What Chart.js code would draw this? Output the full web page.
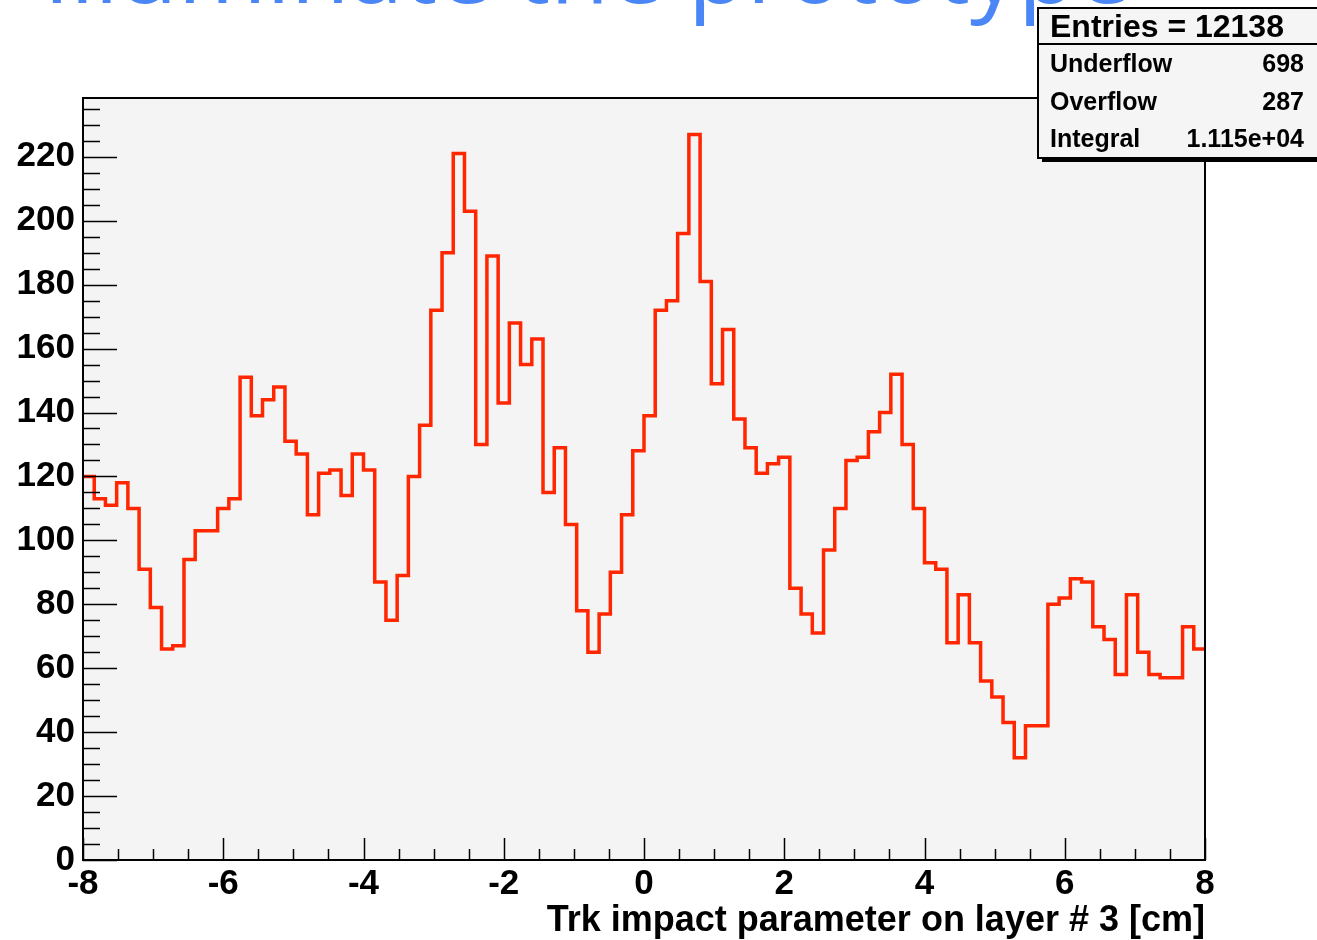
<!DOCTYPE html>
<html lang="fr">
<head>
<meta charset="UTF-8">
<title>Trk impact parameter on layer # 3</title>
<script src="https://cdn.jsdelivr.net/npm/chart.js@4.4.1/dist/chart.umd.min.js"></script>
<style>
    html, body { margin: 0; padding: 0; background: #ffffff; }
    canvas { display: block; }
</style>
</head>
<body>
<canvas id="histo-chart" width="1317" height="940"></canvas>
<script>
// Histogramme : 100 bins entre -8 et 8 cm
const xMin = -8;
const xMax = 8;
const yMax = 238.4;

const binValues = [
    120, 113, 111, 118, 110, 91, 79, 66, 67, 94,
    103, 103, 110, 113, 151, 139, 144, 148, 131, 127,
    108, 121, 122, 114, 127, 122, 87, 75, 89, 120,
    136, 172, 190, 221, 203, 130, 189, 143, 168, 155,
    163, 115, 129, 105, 78, 65, 77, 90, 108, 128,
    139, 172, 175, 196, 227, 181, 149, 166, 138, 129,
    121, 124, 126, 85, 77, 71, 97, 110, 125, 126,
    134, 140, 152, 130, 110, 93, 91, 68, 83, 68,
    56, 51, 43, 32, 42, 42, 80, 82, 88, 87,
    73, 69, 58, 83, 65, 58, 57, 57, 73, 66
];

// Boîte de statistiques
const statsTitle = "Entries = 12138";
const statsLabels = ["Underflow", "Overflow", "Integral"];
const statsValues = ["698", "287", "1.115e+04"];

const slideTitle = "Illuminate the prototype";
const axisTitle = "Trk impact parameter on layer # 3 [cm]";

const police = "'Liberation Sans', Arial, Helvetica, sans-serif";

// Points aux bords des bins (dernier point pour fermer le dernier bin)
const binWidth = (xMax - xMin) / binValues.length;
const points = binValues.map((v, i) => ({ x: xMin + i * binWidth, y: v }));
points.push({ x: xMax, y: binValues[binValues.length - 1] });

// Cadre, graduations et boîte de stats façon ROOT
const cadreRoot = {
    id: "cadreRoot",
    beforeDraw(chart) {
        const { ctx, chartArea: a } = chart;
        ctx.save();

        // titre de la diapo, coupé en haut
        ctx.font = "96px 'Open Sans', sans-serif";
        ctx.fillStyle = "#4a86f5";
        ctx.textBaseline = "alphabetic";
        const debut = ctx.measureText("Illuminate the ").width;
        ctx.fillText(slideTitle, 688 - debut, 3);

        // fond du cadre
        ctx.fillStyle = "#f4f4f4";
        ctx.fillRect(a.left, a.top, a.right - a.left, a.bottom - a.top);
        ctx.restore();
    },
    afterDatasetsDraw(chart) {
        const { ctx, chartArea: a, scales } = chart;
        ctx.save();
        ctx.strokeStyle = "#000000";
        ctx.lineWidth = 1.5;

        // graduations Y : majeures tous les 20, mineures tous les 5
        ctx.beginPath();
        for (let v = 0; v <= yMax; v += 5) {
            const y = Math.round(scales.y.getPixelForValue(v)) + 0.5;
            const len = v % 20 === 0 ? 34 : 17;
            ctx.moveTo(a.left, y);
            ctx.lineTo(a.left + len, y);
        }
        // graduations X : majeures tous les 2, mineures tous les 0.5
        for (let v = xMin; v <= xMax + 1e-9; v += 0.5) {
            const x = Math.round(scales.x.getPixelForValue(v)) + 0.5;
            const len = Math.abs(v % 2) < 1e-9 ? 22 : 11;
            ctx.moveTo(x, a.bottom);
            ctx.lineTo(x, a.bottom - len);
        }
        ctx.stroke();

        // cadre
        ctx.lineWidth = 2;
        ctx.strokeRect(a.left, a.top, a.right - a.left, a.bottom - a.top);
        ctx.restore();
    },
    afterDraw(chart) {
        const ctx = chart.ctx;
        const bx = 1038, by = 8, bw = 290, bh = 150;
        ctx.save();

        // ombre puis boîte
        ctx.fillStyle = "#000000";
        ctx.fillRect(bx + 4, by + 4, bw, bh);
        ctx.fillStyle = "#f5f5f5";
        ctx.fillRect(bx, by, bw, bh);
        ctx.strokeStyle = "#000000";
        ctx.lineWidth = 2;
        ctx.strokeRect(bx, by, bw, bh);
        ctx.beginPath();
        ctx.moveTo(bx, 44);
        ctx.lineTo(bx + bw, 44);
        ctx.stroke();

        ctx.fillStyle = "#000000";
        ctx.textBaseline = "alphabetic";
        ctx.font = "bold 32px " + police;
        ctx.textAlign = "left";
        ctx.fillText(statsTitle, 1050, 37);

        ctx.font = "bold 25px " + police;
        const lignes = [72, 110, 147];
        statsLabels.forEach((label, i) => {
            ctx.textAlign = "left";
            ctx.fillText(label, 1050, lignes[i]);
            ctx.textAlign = "right";
            ctx.fillText(statsValues[i], 1304, lignes[i]);
        });
        ctx.restore();
    }
};

const ctx = document.getElementById("histo-chart").getContext("2d");

new Chart(ctx, {
    type: "line",
    data: {
        datasets: [{
            data: points,
            stepped: true,
            borderColor: "#ff2600",
            borderWidth: 3.5,
            borderJoinStyle: "miter",
            pointRadius: 0,
            fill: false,
        }],
    },
    options: {
        responsive: false,
        animation: false,
        layout: { padding: { top: 98, right: 112, left: 0, bottom: 0 } },
        plugins: {
            legend: { display: false },
            tooltip: { enabled: false },
        },
        scales: {
            x: {
                type: "linear",
                min: xMin,
                max: xMax,
                afterFit: (scale) => { scale.height = 80; },
                grid: { display: false, drawTicks: false },
                border: { display: false },
                ticks: {
                    stepSize: 2,
                    autoSkip: false,
                    maxRotation: 0,
                    padding: 3,
                    color: "#000000",
                    font: { family: police, size: 35, weight: "bold" },
                },
                title: {
                    display: true,
                    text: axisTitle,
                    align: "end",
                    color: "#000000",
                    padding: { top: 0, bottom: -3 },
                    font: { family: police, size: 36, weight: "bold" },
                },
            },
            y: {
                min: 0,
                max: yMax,
                afterFit: (scale) => { scale.width = 83; },
                grid: { display: false, drawTicks: false },
                border: { display: false },
                ticks: {
                    stepSize: 20,
                    includeBounds: false,
                    padding: 8,
                    color: "#000000",
                    font: { family: police, size: 35, weight: "bold" },
                },
            },
        },
    },
    plugins: [cadreRoot],
});
</script>
</body>
</html>
